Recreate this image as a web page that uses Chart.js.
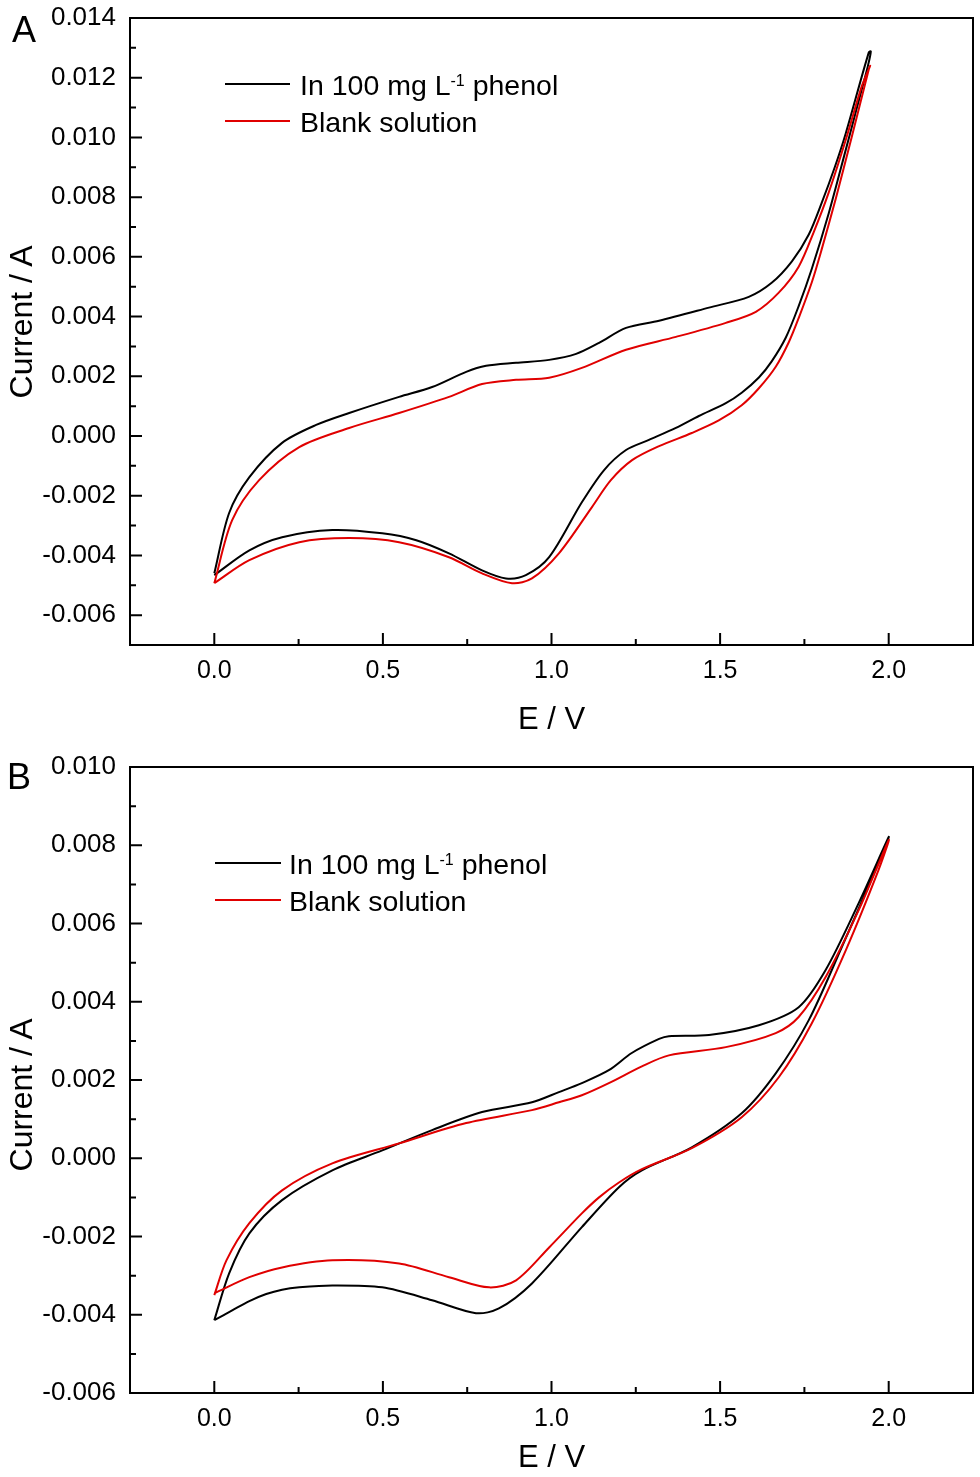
<!DOCTYPE html>
<html>
<head>
<meta charset="utf-8">
<script src="https://cdn.jsdelivr.net/npm/chart.js@4.4.1/dist/chart.umd.min.js"></script>
<style>
  body { margin: 0; background: #fff; }
  #page { position: relative; width: 980px; height: 1477px; font-family: "Liberation Sans", Arial, sans-serif; color: #000; }
  .panel { position: absolute; left: 0; width: 980px; }
  #panelA { top: 0; height: 740px; }
  #panelB { top: 740px; height: 737px; }
  .letter { position: absolute; font-size: 36px; line-height: 1; }
  .ytitle { position: absolute; font-size: 32px; line-height: 1; white-space: nowrap;
            transform: translate(-50%, -50%) rotate(-90deg); }
  .leg-line { position: absolute; height: 0; border-top: 2px solid #000; }
  .leg-text { position: absolute; font-size: 28.5px; line-height: 1; white-space: nowrap; }
  .leg-text sup { font-size: 16px; vertical-align: 9px; line-height: 0; }
</style>
</head>
<body>
<div id="page">
  <div class="panel" id="panelA"><canvas id="chartA" width="980" height="740"></canvas></div>
  <div class="panel" id="panelB"><canvas id="chartB" width="980" height="737"></canvas></div>

  <div class="letter" style="left:12px; top:12px;">A</div>
  <div class="letter" style="left:7px; top:759px;">B</div>

  <div class="ytitle" style="left:21px; top:322px;">Current / A</div>
  <div class="ytitle" style="left:21px; top:1095px;">Current / A</div>

  <div class="leg-line" style="left:225px; top:83px; width:65px;"></div>
  <div class="leg-text" style="left:300px; top:71px;">In 100 mg L<sup>-1</sup> phenol</div>
  <div class="leg-line" style="left:225px; top:120px; width:65px; border-color:#e00000;"></div>
  <div class="leg-text" style="left:300px; top:108px;">Blank solution</div>

  <div class="leg-line" style="left:215px; top:862px; width:66px;"></div>
  <div class="leg-text" style="left:289px; top:850px;">In 100 mg L<sup>-1</sup> phenol</div>
  <div class="leg-line" style="left:215px; top:899px; width:66px; border-color:#e00000;"></div>
  <div class="leg-text" style="left:289px; top:887px;">Blank solution</div>
</div>

<script>
// Tick labels
const xTicks = [0, 0.5, 1.0, 1.5, 2.0];
const yTicksA = [-0.006, -0.004, -0.002, 0, 0.002, 0.004, 0.006, 0.008, 0.010, 0.012, 0.014];
const yTicksB = [-0.006, -0.004, -0.002, 0, 0.002, 0.004, 0.006, 0.008, 0.010];

// Panel A - in 100 mg/L phenol (black), forward scan then reverse scan
const phenolA_E = [0, 0.044, 0.104, 0.201, 0.302, 0.400, 0.548, 0.646, 0.747, 0.806, 0.895, 0.993, 1.073, 1.141, 1.221, 1.319, 1.467, 1.585, 1.653, 1.713, 1.763, 1.801, 1.840, 1.873, 1.941, 1.947,
  1.938, 1.900, 1.873, 1.822, 1.772, 1.733, 1.695, 1.653, 1.615, 1.564, 1.517, 1.437, 1.369, 1.289, 1.221, 1.156, 1.090, 0.993, 0.924, 0.865, 0.794, 0.696, 0.599, 0.498, 0.350, 0.201, 0.104, 0];
const phenolA_I = [-0.0046, -0.00258, -0.00138, -0.00023, 0.00037, 0.00077, 0.00131, 0.00164, 0.00215, 0.00235, 0.00245, 0.00255, 0.00275, 0.00312, 0.00362, 0.00386, 0.0043, 0.00466, 0.00513, 0.00585, 0.00675, 0.0078, 0.009, 0.01015, 0.01285, 0.01288,
  0.01238, 0.01075, 0.0096, 0.00745, 0.0056, 0.00435, 0.0033, 0.0025, 0.00196, 0.00145, 0.0011, 0.00067, 0.00027, -0.00013, -0.00047, -0.00114, -0.00222, -0.00406, -0.00466, -0.00477, -0.0045, -0.00393, -0.00349, -0.00326, -0.00315, -0.00339, -0.00383, -0.00466];

// Panel A - blank solution (red)
const blankA_E = [0, 0.053, 0.133, 0.252, 0.400, 0.548, 0.696, 0.794, 0.895, 0.993, 1.090, 1.221, 1.369, 1.517, 1.606, 1.674, 1.733, 1.778, 1.822, 1.873, 1.920, 1.945,
  1.941, 1.890, 1.843, 1.800, 1.772, 1.733, 1.704, 1.665, 1.615, 1.564, 1.496, 1.416, 1.319, 1.239, 1.176, 1.120, 1.022, 0.942, 0.883, 0.794, 0.696, 0.548, 0.400, 0.252, 0.104, 0];
const blankA_I = [-0.00493, -0.00282, -0.00148, -0.00037, 0.00027, 0.00077, 0.00131, 0.00174, 0.00188, 0.00195, 0.00228, 0.00289, 0.00332, 0.00379, 0.00416, 0.0048, 0.00567, 0.00684, 0.00815, 0.00993, 0.01171, 0.0124,
  0.01228, 0.01, 0.00795, 0.0062, 0.00515, 0.00395, 0.00315, 0.00232, 0.0016, 0.00103, 0.00052, 0.0001, -0.00034, -0.00081, -0.00148, -0.00238, -0.00393, -0.00477, -0.00493, -0.0046, -0.00406, -0.00356, -0.00342, -0.00356, -0.00416, -0.00493];

// Panel B - in 100 mg/L phenol (black)
const phenolB_E = [0, 0.044, 0.104, 0.201, 0.350, 0.498, 0.646, 0.794, 0.942, 1.022, 1.090, 1.170, 1.238, 1.319, 1.348, 1.467, 1.615, 1.733, 1.813, 1.911, 2.000,
  1.961, 1.861, 1.763, 1.665, 1.564, 1.416, 1.268, 1.200, 1.090, 0.942, 0.844, 0.776, 0.646, 0.498, 0.350, 0.252, 0.201, 0.154, 0.104, 0.053, 0];
const phenolB_I = [-0.00414, -0.00294, -0.00192, -0.00107, -0.00031, 0.0002, 0.00072, 0.00118, 0.00143, 0.00169, 0.00192, 0.00225, 0.00269, 0.00305, 0.00312, 0.00315, 0.0034, 0.00386, 0.00481, 0.00652, 0.00821,
  0.00737, 0.0054, 0.00353, 0.00217, 0.00115, 0.00028, -0.00031, -0.00074, -0.00176, -0.0032, -0.00384, -0.00396, -0.00363, -0.0033, -0.00325, -0.0033, -0.00336, -0.00347, -0.00365, -0.00389, -0.00414];

// Panel B - blank solution (red)
const blankB_E = [0, 0.036, 0.104, 0.201, 0.350, 0.548, 0.747, 0.942, 1.022, 1.090, 1.170, 1.268, 1.348, 1.517, 1.665, 1.733, 1.813, 1.911, 2.000,
  1.970, 1.873, 1.772, 1.674, 1.564, 1.416, 1.268, 1.200, 1.141, 1.090, 0.993, 0.895, 0.815, 0.696, 0.548, 0.350, 0.201, 0.104, 0];
const blankB_I = [-0.0035, -0.00261, -0.00166, -0.00082, -0.00013, 0.00038, 0.0009, 0.00123, 0.00143, 0.00161, 0.00192, 0.00235, 0.00263, 0.00284, 0.0032, 0.00361, 0.00463, 0.00634, 0.00813,
  0.00737, 0.00532, 0.00345, 0.00207, 0.00105, 0.00026, -0.00028, -0.00062, -0.001, -0.00141, -0.00228, -0.00312, -0.0033, -0.00304, -0.00269, -0.00261, -0.00279, -0.00304, -0.00345];

const FONT = '"Liberation Sans", Arial, sans-serif';
Chart.defaults.font.family = FONT;
Chart.defaults.color = '#000';

function toPoints(E, I) {
    return E.map((e, i) => ({ x: e, y: I[i] }));
}

// Frame on all four sides plus inward major/minor ticks on the bottom and left axes
const framePlugin = {
    id: 'frame',
    afterDraw(chart) {
        const { ctx, chartArea: a, scales: { x, y } } = chart;
        ctx.save();
        ctx.strokeStyle = '#000';
        ctx.lineWidth = 2;
        ctx.strokeRect(a.left, a.top, a.right - a.left, a.bottom - a.top);

        ctx.beginPath();
        const xv = x.ticks.map(t => t.value);
        xv.forEach((v, i) => {
            const px = x.getPixelForValue(v);
            ctx.moveTo(px, a.bottom);
            ctx.lineTo(px, a.bottom - 12);
            if (i < xv.length - 1) {
                const mx = x.getPixelForValue((v + xv[i + 1]) / 2);
                ctx.moveTo(mx, a.bottom);
                ctx.lineTo(mx, a.bottom - 6);
            }
        });
        const yv = y.ticks.map(t => t.value);
        yv.forEach((v, i) => {
            const py = y.getPixelForValue(v);
            ctx.moveTo(a.left, py);
            ctx.lineTo(a.left + 12, py);
            if (i < yv.length - 1) {
                const my = y.getPixelForValue((v + yv[i + 1]) / 2);
                ctx.moveTo(a.left, my);
                ctx.lineTo(a.left + 6, my);
            }
        });
        ctx.stroke();
        ctx.restore();
    }
};

function makeChart(id, opts) {
    const ctx = document.getElementById(id);
    return new Chart(ctx, {
        type: 'scatter',
        data: {
            datasets: [{
                label: 'Blank solution',
                data: toPoints(opts.blankE, opts.blankI),
                showLine: true,
                borderColor: '#e00000',
                borderWidth: 2,
                pointRadius: 0,
                tension: 0.3
            }, {
                label: 'In 100 mg L-1 phenol',
                data: toPoints(opts.phenolE, opts.phenolI),
                showLine: true,
                borderColor: '#000',
                borderWidth: 2,
                pointRadius: 0,
                tension: 0.3
            }]
        },
        options: {
            responsive: false,
            animation: false,
            layout: {
                padding: { top: opts.padTop, right: 7, left: 0, bottom: 0 }
            },
            plugins: {
                legend: { display: false },
                tooltip: { enabled: false }
            },
            scales: {
                x: {
                    type: 'linear',
                    min: -0.25,
                    max: 2.25,
                    afterBuildTicks: s => { s.ticks = xTicks.map(v => ({ value: v })); },
                    afterFit: s => { s.height = opts.xHeight; },
                    grid: { display: false, drawTicks: false },
                    border: { display: false },
                    ticks: {
                        callback: v => Number(v).toFixed(1),
                        font: { size: 25 },
                        color: '#000',
                        padding: 11,
                        maxRotation: 0
                    },
                    title: {
                        display: true,
                        text: 'E / V',
                        font: { size: 31 },
                        color: '#000',
                        padding: { top: 0, bottom: opts.xTitlePad }
                    }
                },
                y: {
                    type: 'linear',
                    min: opts.yMin,
                    max: opts.yMax,
                    afterBuildTicks: s => { s.ticks = opts.yTicks.map(v => ({ value: v })); },
                    afterFit: s => {
                        s.width = 130;
                        s.paddingTop = 0;
                        s.paddingBottom = 0;
                    },
                    grid: { display: false, drawTicks: false },
                    border: { display: false },
                    ticks: {
                        callback: v => Number(v).toFixed(3),
                        font: { size: 26 },
                        color: '#000',
                        padding: 14
                    },
                    title: { display: false }
                }
            }
        },
        plugins: [framePlugin]
    });
}

makeChart('chartA', {
    phenolE: phenolA_E, phenolI: phenolA_I,
    blankE: blankA_E, blankI: blankA_I,
    yMin: -0.007, yMax: 0.014, yTicks: yTicksA,
    padTop: 18, xHeight: 95, xTitlePad: 1
});

makeChart('chartB', {
    phenolE: phenolB_E, phenolI: phenolB_I,
    blankE: blankB_E, blankI: blankB_I,
    yMin: -0.006, yMax: 0.010, yTicks: yTicksB,
    padTop: 27, xHeight: 84, xTitlePad: 0
});
</script>
</body>
</html>
